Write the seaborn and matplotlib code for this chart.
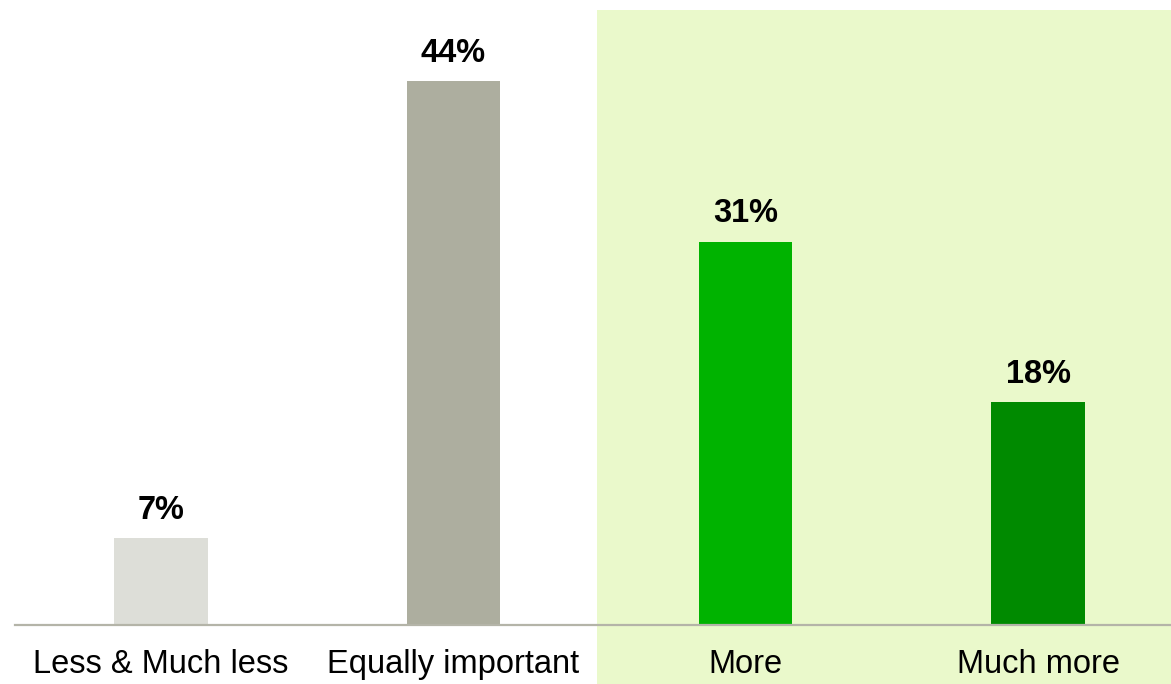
import matplotlib
matplotlib.use("Agg")
import matplotlib.pyplot as plt
import seaborn as sns
import pandas as pd
from matplotlib.patches import Rectangle

categories = ["Less & Much less", "Equally important", "More", "Much more"]
values = [7, 44, 31, 18]
labels = ["7%", "44%", "31%", "18%"]
colors = ["#DDDED8", "#ADAE9F", "#00B300", "#008A00"]

sns.set_theme(style="white")
plt.rcParams['font.family'] = ['Liberation Sans', 'DejaVu Sans']

W, H = 1171, 684
fig = plt.figure(figsize=(W / 100, H / 100), dpi=100)
ax = fig.add_axes([15 / W, (H - 625) / H, (W - 15) / W, 615 / H])
ax.patch.set_visible(False)

df = pd.DataFrame({"cat": categories, "val": values})
sns.barplot(data=df, x="cat", y="val", hue="cat", palette=colors, legend=False,
            width=0.32, saturation=1, linewidth=0, ax=ax, zorder=2)

ax.set_xlim(-0.5, 3.455)
ax.set_ylim(0, 49.75)

# highlight region behind "More" and "Much more"
bg = Rectangle((1.4916, -59 / 615), 5, 1 + 59 / 615, transform=ax.get_xaxis_transform(),
               facecolor="#EAF9CB", edgecolor="none", zorder=0, clip_on=False)
ax.add_patch(bg)

for i, (v, t) in enumerate(zip(values, labels)):
    ax.annotate(t, (i, v), xytext=(0, 9), textcoords="offset points",
                ha="center", va="bottom", fontsize=23.5, fontweight="bold", color="#000000")

for s in ["top", "right", "left"]:
    ax.spines[s].set_visible(False)
ax.spines["bottom"].set_color("#B4B4A8")
ax.spines["bottom"].set_linewidth(1.6)
ax.set_yticks([])
ax.set_xlabel("")
ax.set_ylabel("")
ax.tick_params(axis="x", length=0, pad=17, labelsize=23.5, labelcolor="#000000")

fig.savefig("out.png", dpi=100)
